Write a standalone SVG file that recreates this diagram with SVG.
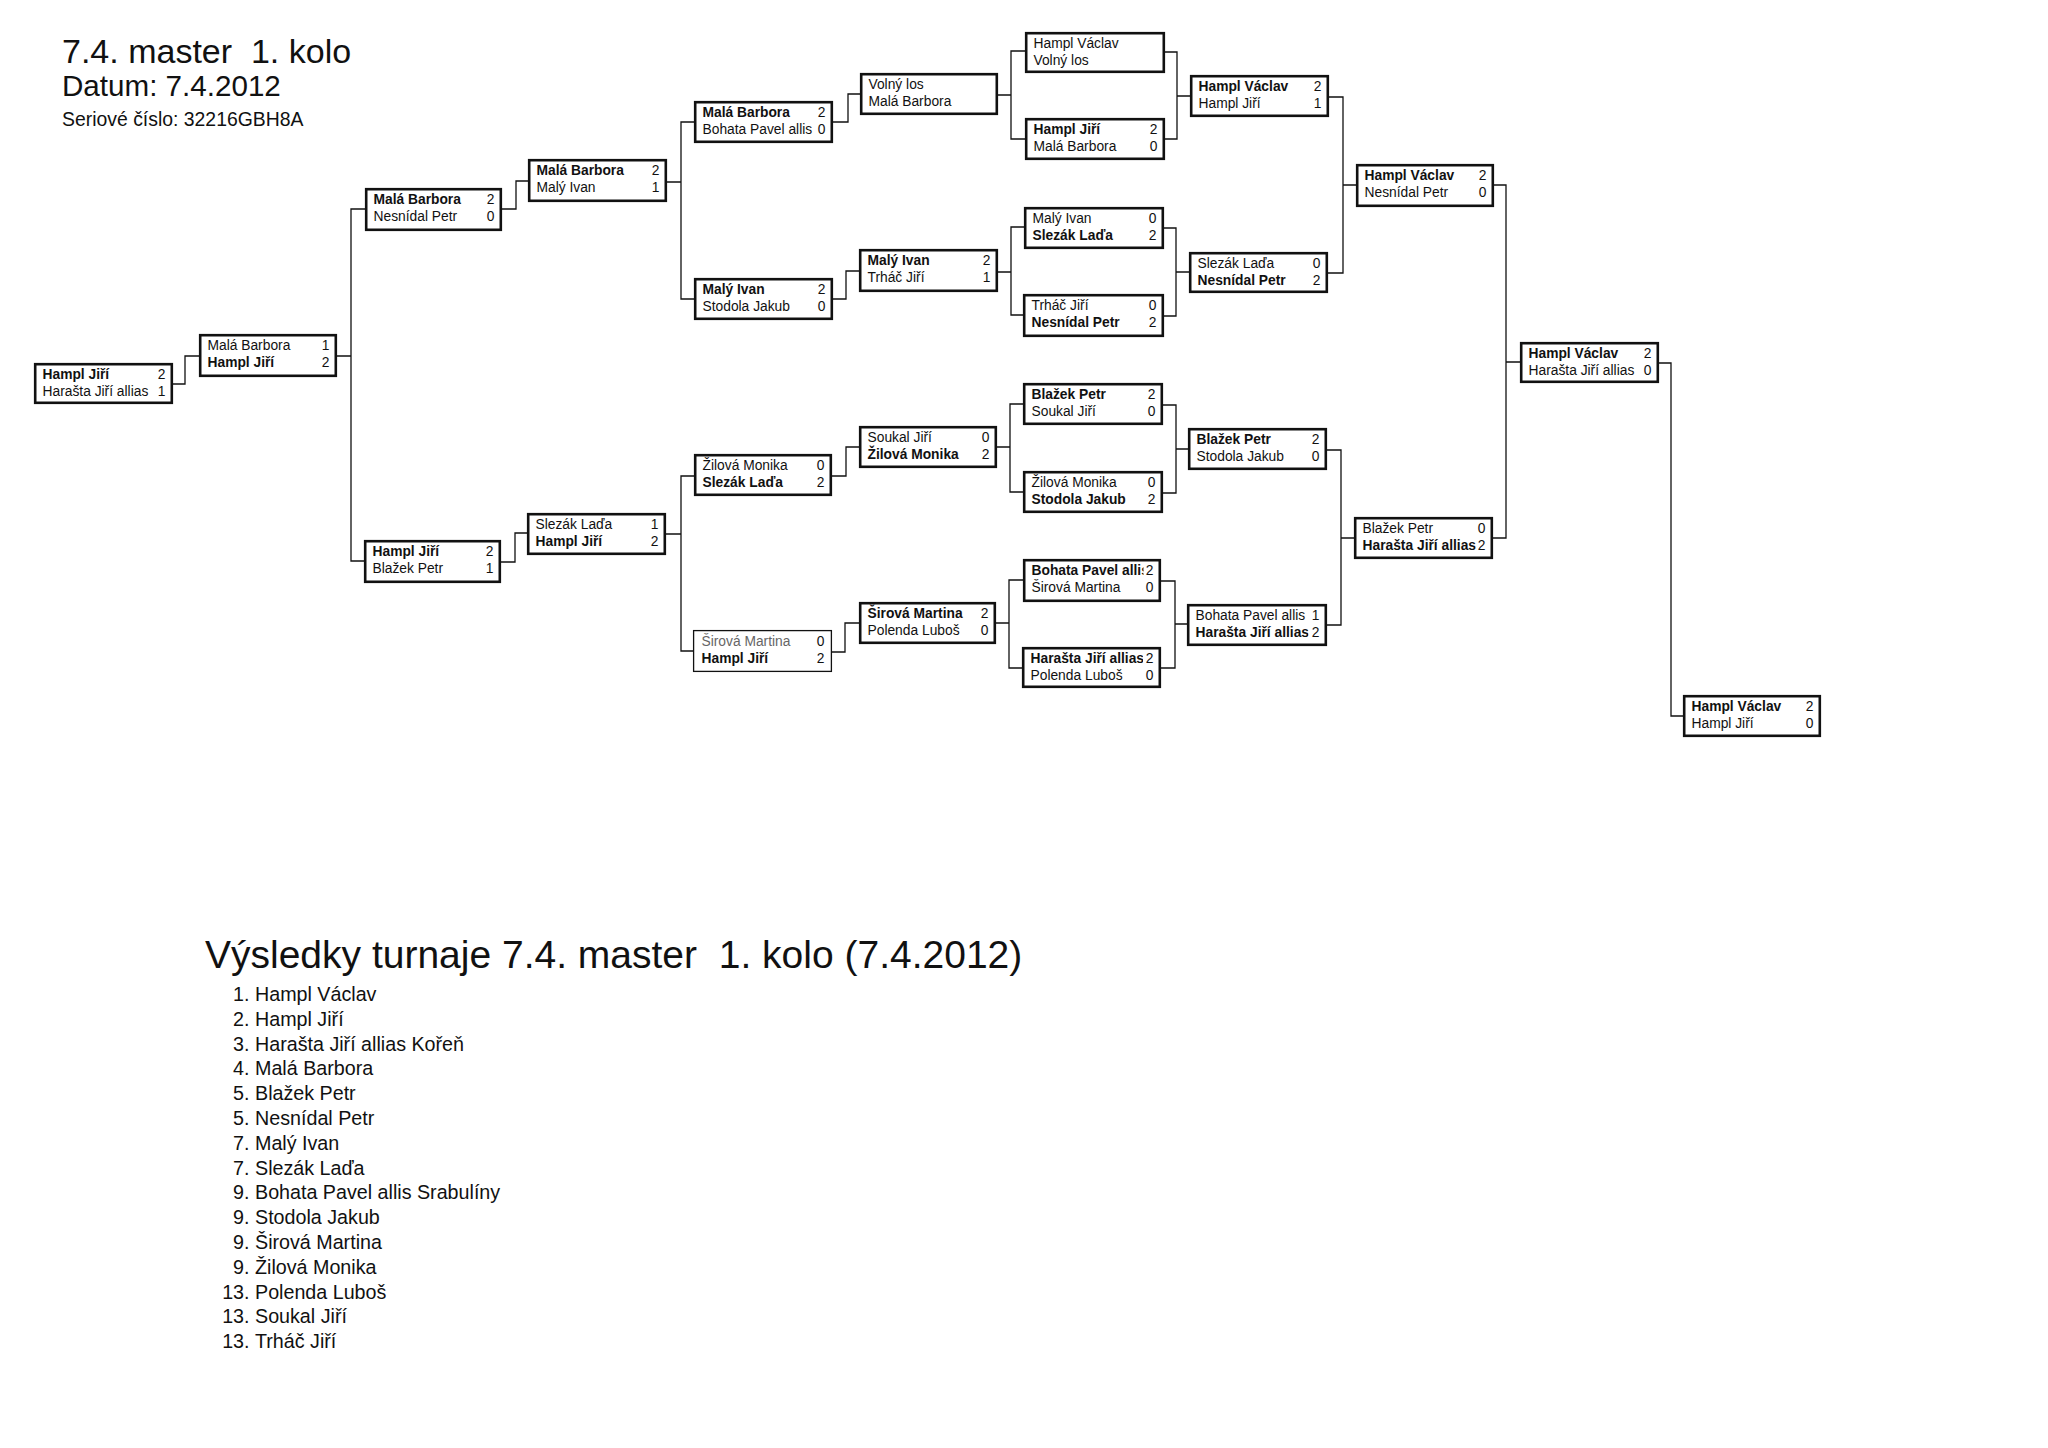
<svg xmlns="http://www.w3.org/2000/svg" width="2048" height="1448" viewBox="0 0 2048 1448">
<style>
text{font-family:"Liberation Sans",Arial,sans-serif;fill:#111}
.box{fill:#fff;stroke:#111;stroke-width:2.6}
.thin{stroke-width:1.3}
.n{font-size:13.8px}
.b{font-weight:bold}
.s{font-size:13.8px;text-anchor:end}
.gray{fill:#666}
.con{fill:none;stroke:#111;stroke-width:1.3}
.h1{font-size:34px;white-space:pre}
.h2{font-size:29.6px}
.h3{font-size:19.4px}
.rt{font-size:39px;white-space:pre}
.li{font-size:19.7px}
.num{text-anchor:end}
</style>
<defs>
<clipPath id="c7g" clipPathUnits="userSpaceOnUse"><rect x="1020" y="555" width="123.5" height="50"/></clipPath>
<clipPath id="c7h" clipPathUnits="userSpaceOnUse"><rect x="1020" y="643" width="123" height="50"/></clipPath>
<clipPath id="c8d" clipPathUnits="userSpaceOnUse"><rect x="1185" y="600" width="123.5" height="50"/></clipPath>
</defs>
<rect width="2048" height="1448" fill="#fff"/>

<g id="header">
<text class="h1" x="62" y="63" xml:space="preserve">7.4. master  1. kolo</text>
<text class="h2" x="62" y="96">Datum: 7.4.2012</text>
<text class="h3" x="62" y="126">Seriové číslo: 32216GBH8A</text>
</g>

<g id="connectors">
<path class="con" d="M173,384 H185 V356 H199"/>
<path class="con" d="M337,356 H351 M365,209 H351 V561 H364"/>
<path class="con" d="M502,209 H516 V181 H528"/>
<path class="con" d="M501,562 H515 V533 H527"/>
<path class="con" d="M667,182 H681 M694,122 H681 V299 H694"/>
<path class="con" d="M666,534 H681 M694,476 H681 V651 H693"/>
<path class="con" d="M833,122 H848 V94 H860"/>
<path class="con" d="M833,299 H846 V271 H859"/>
<path class="con" d="M832,476 H846 V447 H859"/>
<path class="con" d="M832,652 H845 V623 H859"/>
<path class="con" d="M998,95 H1011 M1025,51 H1011 V139 H1025"/>
<path class="con" d="M998,272 H1011 M1024,227 H1011 V315 H1023"/>
<path class="con" d="M997,447 H1010 M1023,404 H1010 V492 H1023"/>
<path class="con" d="M996,623 H1009 M1023,580 H1009 V668 H1022"/>
<path class="con" d="M1165,52 H1177 V139 H1165 M1177,96 H1190"/>
<path class="con" d="M1164,228 H1176 V316 H1164 M1176,272 H1189"/>
<path class="con" d="M1163,405 H1176 V493 H1163 M1176,449 H1188"/>
<path class="con" d="M1161,581 H1175 V668 H1161 M1175,624 H1187"/>
<path class="con" d="M1329,97 H1343 V273 H1328 M1343,185 H1356"/>
<path class="con" d="M1327,450 H1341 V625 H1327 M1341,538 H1354"/>
<path class="con" d="M1494,185 H1506 V538 H1493 M1506,362 H1520"/>
<path class="con" d="M1659,363 H1671 V716 H1683"/>
</g>

<g id="r1"><rect class="box" x="35.2" y="364.2" width="136.6" height="38.6"/>
<text class="n b" x="42.5" y="379.3">Hampl Jiří</text><text class="s" x="165.5" y="379.3">2</text>
<text class="n" x="42.5" y="395.8">Harašta Jiří allias</text><text class="s" x="165.5" y="395.8">1</text></g>

<g id="r2"><rect class="box" x="200.2" y="335.2" width="135.6" height="40.6"/>
<text class="n" x="207.5" y="350.3">Malá Barbora</text><text class="s" x="329.5" y="350.3">1</text>
<text class="n b" x="207.5" y="366.8">Hampl Jiří</text><text class="s" x="329.5" y="366.8">2</text></g>

<g id="r3a"><rect class="box" x="366.2" y="189.2" width="134.6" height="40.6"/>
<text class="n b" x="373.5" y="204.3">Malá Barbora</text><text class="s" x="494.5" y="204.3">2</text>
<text class="n" x="373.5" y="220.8">Nesnídal Petr</text><text class="s" x="494.5" y="220.8">0</text></g>

<g id="r3b"><rect class="box" x="365.2" y="541.2" width="134.6" height="40.6"/>
<text class="n b" x="372.5" y="556.3">Hampl Jiří</text><text class="s" x="493.5" y="556.3">2</text>
<text class="n" x="372.5" y="572.8">Blažek Petr</text><text class="s" x="493.5" y="572.8">1</text></g>

<g id="r4a"><rect class="box" x="529.2" y="160.2" width="136.6" height="40.6"/>
<text class="n b" x="536.5" y="175.3">Malá Barbora</text><text class="s" x="659.5" y="175.3">2</text>
<text class="n" x="536.5" y="191.8">Malý Ivan</text><text class="s" x="659.5" y="191.8">1</text></g>

<g id="r4b"><rect class="box" x="528.2" y="514.2" width="136.6" height="39.6"/>
<text class="n" x="535.5" y="529.3">Slezák Laďa</text><text class="s" x="658.5" y="529.3">1</text>
<text class="n b" x="535.5" y="545.8">Hampl Jiří</text><text class="s" x="658.5" y="545.8">2</text></g>

<g id="r5a"><rect class="box" x="695.2" y="102.2" width="136.6" height="39.6"/>
<text class="n b" x="702.5" y="117.3">Malá Barbora</text><text class="s" x="825.5" y="117.3">2</text>
<text class="n" x="702.5" y="133.8">Bohata Pavel allis</text><text class="s" x="825.5" y="133.8">0</text></g>

<g id="r5b"><rect class="box" x="695.2" y="279.2" width="136.6" height="39.6"/>
<text class="n b" x="702.5" y="294.3">Malý Ivan</text><text class="s" x="825.5" y="294.3">2</text>
<text class="n" x="702.5" y="310.8">Stodola Jakub</text><text class="s" x="825.5" y="310.8">0</text></g>

<g id="r5c"><rect class="box" x="695.2" y="455.2" width="135.6" height="39.6"/>
<text class="n" x="702.5" y="470.3">Žilová Monika</text><text class="s" x="824.5" y="470.3">0</text>
<text class="n b" x="702.5" y="486.8">Slezák Laďa</text><text class="s" x="824.5" y="486.8">2</text></g>

<g id="r5d"><rect class="box thin" x="693.6" y="630.6" width="137.8" height="40.8"/>
<text class="n gray" x="701.5" y="646.3">Širová Martina</text><text class="s" x="824.5" y="646.3">0</text>
<text class="n b" x="701.5" y="662.8">Hampl Jiří</text><text class="s" x="824.5" y="662.8">2</text></g>

<g id="r6a"><rect class="box" x="861.2" y="74.2" width="135.6" height="39.6"/>
<text class="n" x="868.5" y="89.3">Volný los</text>
<text class="n" x="868.5" y="105.8">Malá Barbora</text></g>

<g id="r6b"><rect class="box" x="860.2" y="250.2" width="136.6" height="40.6"/>
<text class="n b" x="867.5" y="265.3">Malý Ivan</text><text class="s" x="990.5" y="265.3">2</text>
<text class="n" x="867.5" y="281.8">Trháč Jiří</text><text class="s" x="990.5" y="281.8">1</text></g>

<g id="r6c"><rect class="box" x="860.2" y="427.2" width="135.6" height="39.6"/>
<text class="n" x="867.5" y="442.3">Soukal Jiří</text><text class="s" x="989.5" y="442.3">0</text>
<text class="n b" x="867.5" y="458.8">Žilová Monika</text><text class="s" x="989.5" y="458.8">2</text></g>

<g id="r6d"><rect class="box" x="860.2" y="603.2" width="134.6" height="39.6"/>
<text class="n b" x="867.5" y="618.3">Širová Martina</text><text class="s" x="988.5" y="618.3">2</text>
<text class="n" x="867.5" y="634.8">Polenda Luboš</text><text class="s" x="988.5" y="634.8">0</text></g>

<g id="r7a"><rect class="box" x="1026.2" y="33.2" width="137.6" height="38.6"/>
<text class="n" x="1033.5" y="48.3">Hampl Václav</text>
<text class="n" x="1033.5" y="64.8">Volný los</text></g>

<g id="r7b"><rect class="box" x="1026.2" y="119.2" width="137.6" height="39.6"/>
<text class="n b" x="1033.5" y="134.3">Hampl Jiří</text><text class="s" x="1157.5" y="134.3">2</text>
<text class="n" x="1033.5" y="150.8">Malá Barbora</text><text class="s" x="1157.5" y="150.8">0</text></g>

<g id="r7c"><rect class="box" x="1025.2" y="208.2" width="137.6" height="39.6"/>
<text class="n" x="1032.5" y="223.3">Malý Ivan</text><text class="s" x="1156.5" y="223.3">0</text>
<text class="n b" x="1032.5" y="239.8">Slezák Laďa</text><text class="s" x="1156.5" y="239.8">2</text></g>

<g id="r7d"><rect class="box" x="1024.2" y="295.2" width="138.6" height="40.6"/>
<text class="n" x="1031.5" y="310.3">Trháč Jiří</text><text class="s" x="1156.5" y="310.3">0</text>
<text class="n b" x="1031.5" y="326.8">Nesnídal Petr</text><text class="s" x="1156.5" y="326.8">2</text></g>

<g id="r7e"><rect class="box" x="1024.2" y="384.2" width="137.6" height="39.6"/>
<text class="n b" x="1031.5" y="399.3">Blažek Petr</text><text class="s" x="1155.5" y="399.3">2</text>
<text class="n" x="1031.5" y="415.8">Soukal Jiří</text><text class="s" x="1155.5" y="415.8">0</text></g>

<g id="r7f"><rect class="box" x="1024.2" y="472.2" width="137.6" height="39.6"/>
<text class="n" x="1031.5" y="487.3">Žilová Monika</text><text class="s" x="1155.5" y="487.3">0</text>
<text class="n b" x="1031.5" y="503.8">Stodola Jakub</text><text class="s" x="1155.5" y="503.8">2</text></g>

<g id="r7g"><rect class="box" x="1024.2" y="560.2" width="135.6" height="40.6"/>
<text class="n b" x="1031.5" y="575.3" clip-path="url(#c7g)">Bohata Pavel allis</text><text class="s" x="1153.5" y="575.3">2</text>
<text class="n" x="1031.5" y="591.8">Širová Martina</text><text class="s" x="1153.5" y="591.8">0</text></g>

<g id="r7h"><rect class="box" x="1023.2" y="648.2" width="136.6" height="38.6"/>
<text class="n b" x="1030.5" y="663.3" clip-path="url(#c7h)">Harašta Jiří allias</text><text class="s" x="1153.5" y="663.3">2</text>
<text class="n" x="1030.5" y="679.8">Polenda Luboš</text><text class="s" x="1153.5" y="679.8">0</text></g>

<g id="r8a"><rect class="box" x="1191.2" y="76.2" width="136.6" height="39.6"/>
<text class="n b" x="1198.5" y="91.3">Hampl Václav</text><text class="s" x="1321.5" y="91.3">2</text>
<text class="n" x="1198.5" y="107.8">Hampl Jiří</text><text class="s" x="1321.5" y="107.8">1</text></g>

<g id="r8b"><rect class="box" x="1190.2" y="253.2" width="136.6" height="38.6"/>
<text class="n" x="1197.5" y="268.3">Slezák Laďa</text><text class="s" x="1320.5" y="268.3">0</text>
<text class="n b" x="1197.5" y="284.8">Nesnídal Petr</text><text class="s" x="1320.5" y="284.8">2</text></g>

<g id="r8c"><rect class="box" x="1189.2" y="429.2" width="136.6" height="39.6"/>
<text class="n b" x="1196.5" y="444.3">Blažek Petr</text><text class="s" x="1319.5" y="444.3">2</text>
<text class="n" x="1196.5" y="460.8">Stodola Jakub</text><text class="s" x="1319.5" y="460.8">0</text></g>

<g id="r8d"><rect class="box" x="1188.2" y="605.2" width="137.6" height="39.6"/>
<text class="n" x="1195.5" y="620.3">Bohata Pavel allis</text><text class="s" x="1319.5" y="620.3">1</text>
<text class="n b" x="1195.5" y="636.8" clip-path="url(#c8d)">Harašta Jiří allias</text><text class="s" x="1319.5" y="636.8">2</text></g>

<g id="r9a"><rect class="box" x="1357.2" y="165.2" width="135.6" height="40.6"/>
<text class="n b" x="1364.5" y="180.3">Hampl Václav</text><text class="s" x="1486.5" y="180.3">2</text>
<text class="n" x="1364.5" y="196.8">Nesnídal Petr</text><text class="s" x="1486.5" y="196.8">0</text></g>

<g id="r9b"><rect class="box" x="1355.2" y="518.2" width="136.6" height="39.6"/>
<text class="n" x="1362.5" y="533.3">Blažek Petr</text><text class="s" x="1485.5" y="533.3">0</text>
<text class="n b" x="1362.5" y="549.8">Harašta Jiří allias</text><text class="s" x="1485.5" y="549.8">2</text></g>

<g id="r10"><rect class="box" x="1521.2" y="343.2" width="136.6" height="38.6"/>
<text class="n b" x="1528.5" y="358.3">Hampl Václav</text><text class="s" x="1651.5" y="358.3">2</text>
<text class="n" x="1528.5" y="374.8">Harašta Jiří allias</text><text class="s" x="1651.5" y="374.8">0</text></g>

<g id="r11"><rect class="box" x="1684.2" y="696.2" width="135.6" height="39.6"/>
<text class="n b" x="1691.5" y="711.3">Hampl Václav</text><text class="s" x="1813.5" y="711.3">2</text>
<text class="n" x="1691.5" y="727.8">Hampl Jiří</text><text class="s" x="1813.5" y="727.8">0</text></g>

<g id="results">
<text class="rt" x="205" y="968" xml:space="preserve">Výsledky turnaje 7.4. master  1. kolo (7.4.2012)</text>
<g class="li">
<text class="num" x="249.5" y="1001">1.</text><text x="255" y="1001">Hampl Václav</text>
<text class="num" x="249.5" y="1025.8">2.</text><text x="255" y="1025.8">Hampl Jiří</text>
<text class="num" x="249.5" y="1050.6">3.</text><text x="255" y="1050.6">Harašta Jiří allias Kořeň</text>
<text class="num" x="249.5" y="1075.4">4.</text><text x="255" y="1075.4">Malá Barbora</text>
<text class="num" x="249.5" y="1100.2">5.</text><text x="255" y="1100.2">Blažek Petr</text>
<text class="num" x="249.5" y="1125">5.</text><text x="255" y="1125">Nesnídal Petr</text>
<text class="num" x="249.5" y="1149.8">7.</text><text x="255" y="1149.8">Malý Ivan</text>
<text class="num" x="249.5" y="1174.6">7.</text><text x="255" y="1174.6">Slezák Laďa</text>
<text class="num" x="249.5" y="1199.4">9.</text><text x="255" y="1199.4">Bohata Pavel allis Srabulíny</text>
<text class="num" x="249.5" y="1224.2">9.</text><text x="255" y="1224.2">Stodola Jakub</text>
<text class="num" x="249.5" y="1249">9.</text><text x="255" y="1249">Širová Martina</text>
<text class="num" x="249.5" y="1273.8">9.</text><text x="255" y="1273.8">Žilová Monika</text>
<text class="num" x="249.5" y="1298.6">13.</text><text x="255" y="1298.6">Polenda Luboš</text>
<text class="num" x="249.5" y="1323.4">13.</text><text x="255" y="1323.4">Soukal Jiří</text>
<text class="num" x="249.5" y="1348.2">13.</text><text x="255" y="1348.2">Trháč Jiří</text>
</g>
</g>
</svg>
